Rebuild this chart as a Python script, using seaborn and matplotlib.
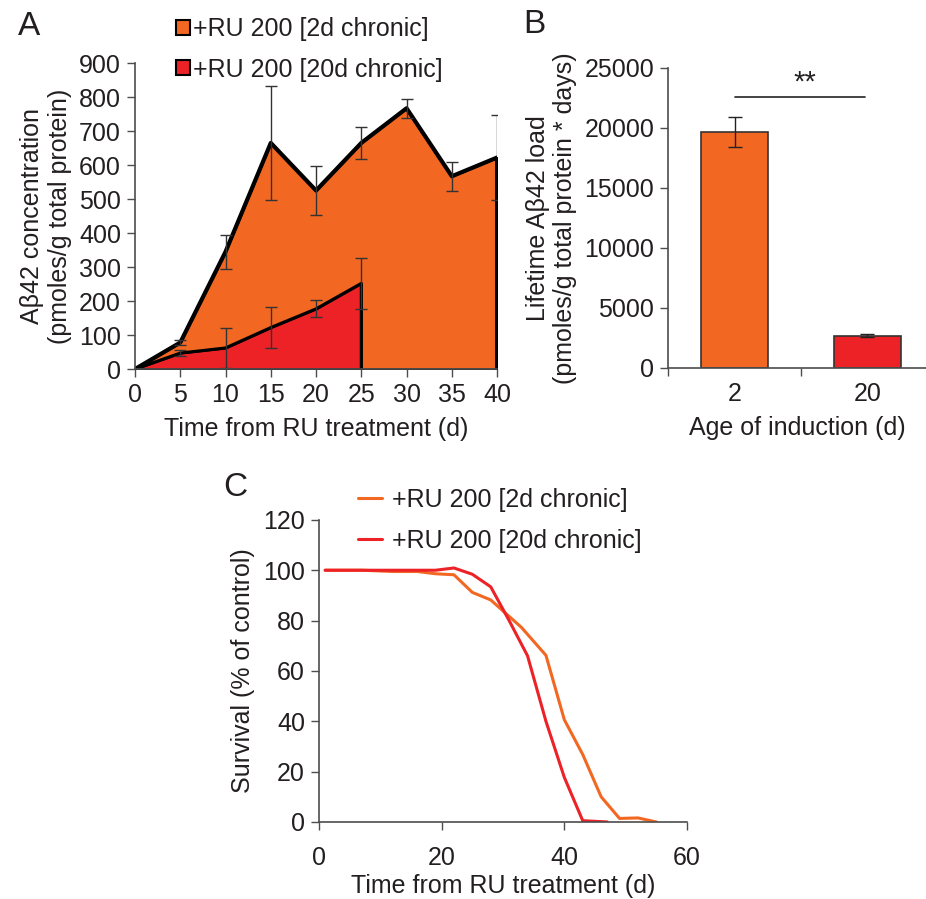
import numpy as np
import matplotlib
matplotlib.use("Agg")
import matplotlib.pyplot as plt
import pandas as pd
import seaborn as sns

# panel A: Abeta42 concentration over time
days_a = [0, 5, 10, 15, 20, 25, 30, 35, 40]
conc_2d = [0, 78, 345, 665, 525, 665, 767, 567, 622]
err_2d = [0, 8, 50, 168, 73, 46, 28, 43, 125]
days_a20 = [0, 5, 10, 15, 20, 25]
conc_20d = [0, 47, 62, 122, 177, 252]
err_20d = [0, 10, 58, 60, 25, 75]

# panel B: lifetime load
ages = ["2", "20"]
load = [19700, 2700]
load_err = [1250, 150]

# panel C: survival
surv_days_2d = [1, 7, 12, 16, 19, 22, 25, 28, 33, 37, 40, 43, 46, 49, 52, 55]
surv_2d = [100, 100, 99.5, 99.5, 98.6, 98.2, 91.2, 88.2, 77.3, 66.2, 40.6, 26.8, 10, 1.4, 1.6, 0]
surv_days_20d = [1, 7, 10, 16, 19, 22, 25, 28, 31, 34, 37, 40, 43, 47]
surv_20d = [100, 100, 100, 100, 100, 100.9, 98.4, 93.4, 80, 66, 40, 17.7, 0.5, 0]

labels = ["+RU 200 [2d chronic]", "+RU 200 [20d chronic]"]
orange = "#F26822"
red = "#EC2227"
txt = "#231F20"
spine = "#4D4D4D"
FS = 18

sns.set_style("ticks")
plt.rcParams["font.family"] = ["Liberation Sans", "DejaVu Sans"]
plt.rcParams["font.size"] = FS
plt.rcParams["text.color"] = txt
plt.rcParams["axes.labelcolor"] = txt
plt.rcParams["xtick.color"] = spine
plt.rcParams["ytick.color"] = spine
plt.rcParams["xtick.labelcolor"] = txt
plt.rcParams["ytick.labelcolor"] = txt
plt.rcParams["axes.edgecolor"] = spine

fig = plt.figure(figsize=(9.26, 8.99), dpi=100)

def style(ax):
    sns.despine(ax=ax)
    ax.tick_params(labelsize=FS, width=1, length=6, pad=4)
    for s in ax.spines.values():
        s.set_linewidth(1.2)

# ---------- A ----------
axA = fig.add_axes([0.1458, 0.5895, 0.391, 0.3404])
axA.fill_between(days_a, conc_2d, 0, color=orange, lw=0, label=labels[0])
axA.fill_between(days_a20, conc_20d, 0, color=red, lw=0, label=labels[1])
sns.lineplot(x=days_a + [40], y=conc_2d + [0], ax=axA, color="black", lw=3,
             sort=False, estimator=None)
sns.lineplot(x=days_a20 + [25], y=conc_20d + [0], ax=axA, color="black", lw=2.2,
             sort=False, estimator=None)
axA.errorbar(days_a[1:], conc_2d[1:], yerr=err_2d[1:], fmt="none", ecolor="#333333",
             elinewidth=1, capsize=4, capthick=1)
axA.errorbar(days_a20[1:], conc_20d[1:], yerr=err_20d[1:], fmt="none", ecolor="#333333",
             elinewidth=1, capsize=4, capthick=1)
if axA.get_legend() is not None:
    axA.get_legend().remove()
axA.set_xlim(0, 40)
axA.set_ylim(0, 900)
axA.set_xticks(range(0, 41, 5))
axA.set_yticks(range(0, 901, 100))
axA.set_xlabel("Time from RU treatment (d)", fontsize=FS, labelpad=7)
axA.set_ylabel("Aβ42 concentration\n(pmoles/g total protein)", fontsize=FS, labelpad=5)
style(axA)
hA, lA = axA.get_legend_handles_labels()
for h in hA:
    h.set_edgecolor("black")
    h.set_linewidth(1.5)
fig.legend(hA[:2], lA[:2], loc="upper left", bbox_to_anchor=(0.19, 0.981),
           frameon=False, fontsize=FS, handlelength=0.56, handleheight=0.56,
           handletextpad=0.12, labelspacing=0.66, borderaxespad=0, borderpad=0)
fig.text(0.019, 0.971, "A", fontsize=24, va="center", ha="left")

# ---------- B ----------
axB = fig.add_axes([0.7214, 0.5907, 0.2786, 0.3337])
dfB = pd.DataFrame({"age": ages, "load": load})
sns.barplot(data=dfB, x="age", y="load", hue="age", palette=[orange, red], width=0.5,
            saturation=1, edgecolor="#333333", linewidth=1.2, legend=False, ax=axB)
axB.errorbar([0, 1], load, yerr=load_err, fmt="none", ecolor="#222222",
             elinewidth=1, capsize=5, capthick=1)
axB.plot([0, 0.98], [22600, 22600], color="#222222", lw=1.2)
axB.text(0.53, 22600, "**", ha="center", va="bottom", fontsize=21)
axB.set_xlim(-0.5, 1.44)
axB.set_ylim(0, 25000)
axB.set_yticks(range(0, 25001, 5000))
axB.set_xticks([0, 1], ages)
axB.set_xticks([-0.5, 0.5], minor=True)
axB.set_xlabel("Age of induction (d)", fontsize=FS, labelpad=7)
axB.set_ylabel("Lifetime Aβ42 load\n(pmoles/g total protein * days)", fontsize=FS, labelpad=5)
style(axB)
axB.tick_params(axis="x", which="minor", length=6, width=1, color=spine)
axB.tick_params(axis="x", which="major", length=0, pad=10)
fig.text(0.565, 0.973, "B", fontsize=24, va="center", ha="left")

# ---------- C ----------
axC = fig.add_axes([0.3445, 0.0857, 0.3974, 0.336])
sns.lineplot(x=surv_days_2d, y=surv_2d, ax=axC, color=orange, lw=2.2, label=labels[0],
             estimator=None)
sns.lineplot(x=surv_days_20d, y=surv_20d, ax=axC, color=red, lw=2.2, label=labels[1],
             estimator=None)
axC.set_xlim(0, 60)
axC.set_ylim(0, 120)
axC.set_xticks(range(0, 61, 20))
axC.set_yticks(range(0, 121, 20))
axC.set_xlabel("Time from RU treatment (d)", fontsize=FS, labelpad=3)
axC.set_ylabel("Survival (% of control)", fontsize=FS, labelpad=6)
axC.legend(loc="upper left", bbox_to_anchor=(0.106, 1.105), frameon=False, fontsize=FS,
           handlelength=0.96, handletextpad=0.4, labelspacing=0.66, borderaxespad=0,
           borderpad=0)
style(axC)
axC.tick_params(axis="x", pad=11)
fig.text(0.241, 0.458, "C", fontsize=24, va="center", ha="left")

fig.savefig("out.png", dpi=100)
